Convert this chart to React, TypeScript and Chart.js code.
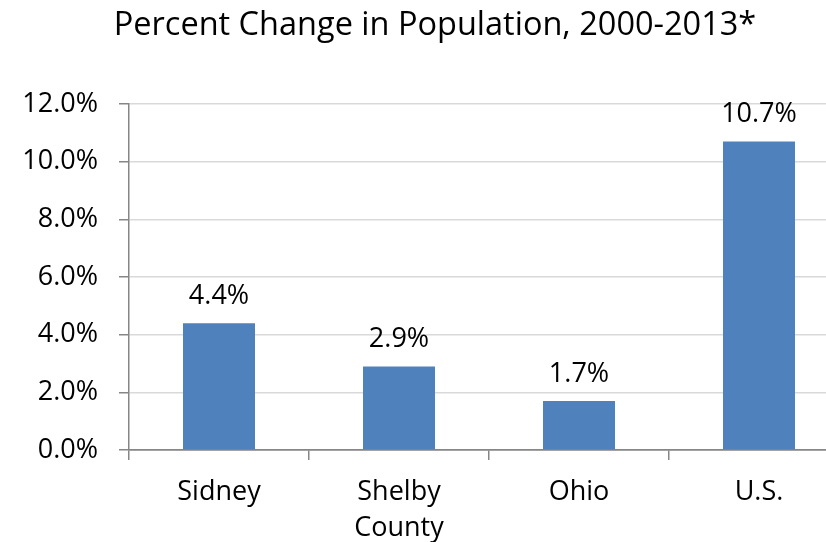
import React, { useEffect, useRef } from "react";
import { Chart, registerables } from "chart.js";

Chart.register(...registerables);

const categories: (string | string[])[] = ["Sidney", ["Shelby", "County"], "Ohio", "U.S."];
const percentChange: number[] = [4.4, 2.9, 1.7, 10.7];
const yTicks: number[] = [0, 2, 4, 6, 8, 10, 12];
const titleText = "Percent Change in Population, 2000-2013*";

const FONT = "'Open Sans', sans-serif";
const AXIS = "#868686";
const GRID = "#d9d9d9";
const BAR = "#4f81bd";

const dataLabelPlugin = {
  id: "dataLabels",
  afterDatasetsDraw(chart: any) {
    const ctx = chart.ctx;
    const meta = chart.getDatasetMeta(0);
    ctx.save();
    ctx.font = `27px ${FONT}`;
    ctx.fillStyle = "#000";
    ctx.textAlign = "center";
    ctx.textBaseline = "middle";
    meta.data.forEach((el: any, i: number) => {
      const v = chart.data.datasets[0].data[i] as number;
      ctx.fillText(v.toFixed(1) + "%", el.x, el.y - 27);
    });
    ctx.restore();
  },
};

export default function App() {
  const ref = useRef<HTMLCanvasElement>(null);
  useEffect(() => {
    if (!ref.current) return;
    const chart = new Chart(ref.current, {
      type: "bar",
      data: {
        labels: categories,
        datasets: [
          {
            data: percentChange,
            backgroundColor: BAR,
            categoryPercentage: 1,
            barPercentage: 0.4,
          },
        ],
      },
      options: {
        responsive: false,
        animation: false,
        layout: { padding: { left: 21, right: 21, top: 0, bottom: 0 } },
        plugins: {
          legend: { display: false },
          tooltip: { enabled: false },
          title: {
            display: true,
            text: titleText,
            color: "#000",
            font: { family: FONT, size: 32.5, weight: "normal" },
            padding: { top: 6, bottom: 59 },
          },
        },
        scales: {
          x: {
            grid: {
              display: true,
              drawOnChartArea: false,
              drawTicks: true,
              tickLength: 10,
              tickColor: AXIS,
              lineWidth: 1.5,
            },
            border: { color: AXIS, width: 1.5 },
            ticks: {
              color: "#000",
              font: { family: FONT, size: 27, lineHeight: 36 / 27 },
              padding: 14,
              maxRotation: 0,
              autoSkip: false,
            },
            afterFit(scale: any) {
              scale.height = 92;
            },
          },
          y: {
            min: yTicks[0],
            max: yTicks[yTicks.length - 1],
            afterBuildTicks(scale: any) {
              scale.ticks = yTicks.map((v) => ({ value: v }));
            },
            grid: {
              color: (c: any) => (c.tick && c.tick.value === 0 ? AXIS : GRID),
              lineWidth: 1.5,
              tickLength: 10,
              tickColor: AXIS,
            },
            border: { color: AXIS, width: 1.5 },
            ticks: {
              color: "#000",
              font: { family: FONT, size: 27 },
              padding: 21,
              callback: (v: any) => Number(v).toFixed(1) + "%",
            },
            afterFit(scale: any) {
              scale.width = 108;
            },
          },
        },
      },
      plugins: [dataLabelPlugin],
    });
    return () => chart.destroy();
  }, []);
  return (
    <div
      style={{
        position: "fixed",
        left: 0,
        top: 0,
        width: 826,
        height: 542,
        overflow: "hidden",
        background: "#fff",
      }}
    >
      <canvas ref={ref} width={870} height={542} style={{ display: "block" }} />
    </div>
  );
}
